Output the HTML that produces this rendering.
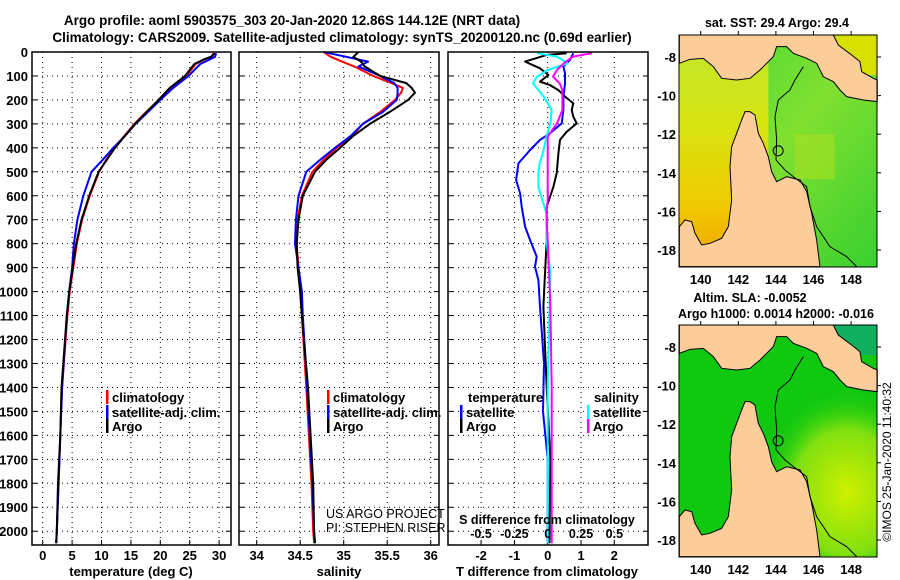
<!DOCTYPE html>
<html><head><meta charset="utf-8"><style>
body{margin:0;background:#fff;}
svg{display:block;font-family:"Liberation Sans",sans-serif;font-weight:bold;}
</style></head><body>
<svg id="c" width="900" height="580" viewBox="0 0 900 580" xmlns="http://www.w3.org/2000/svg">
<defs>
<linearGradient id="gulf" x1="0" y1="0" x2="0" y2="1"><stop offset="0" stop-color="#c0e830"/><stop offset="0.4" stop-color="#d8e410"/><stop offset="0.75" stop-color="#f0c800"/><stop offset="1" stop-color="#f0a000"/></linearGradient>
<linearGradient id="coral" x1="0" y1="0" x2="1" y2="1"><stop offset="0" stop-color="#40d838"/><stop offset="0.5" stop-color="#80e030"/><stop offset="1" stop-color="#38d030"/></linearGradient>
<radialGradient id="slaHi" cx="0.85" cy="0.72" r="0.45"><stop offset="0" stop-color="#d0f000"/><stop offset="0.6" stop-color="#80e010"/><stop offset="1" stop-color="#10c810" stop-opacity="0"/></radialGradient>
</defs>
<text x="292" y="25" text-anchor="middle" font-size="13.5">Argo profile: aoml 5903575_303 20-Jan-2020 12.86S 144.12E (NRT data)</text>
<text x="342" y="42" text-anchor="middle" font-size="13.5">Climatology: CARS2009. Satellite-adjusted climatology: synTS_20200120.nc (0.69d earlier)</text>
<g id="panels"></g>
<g id="maps"></g>
<text transform="translate(891,462) rotate(-90)" text-anchor="middle" font-size="12" font-weight="normal">©IMOS 25-Jan-2020 11:40:32</text>
</svg>
<script>
// ---- data ----
const depthTicks = [0,100,200,300,400,500,600,700,800,900,1000,1100,1200,1300,1400,1500,1600,1700,1800,1900,2000];
const tempTicks = [0,5,10,15,20,25,30];
const salTicks = [34,34.5,35,35.5,36];
const salTickLabels = ["34","34.5","35","35.5","36"];
const dTTicks = [-2,-1,0,1,2];
const dSTicks = [-0.5,-0.25,0,0.25,0.5];
const dSTickLabels = ["-0.5","-0.25","0","0.25","0.5"];

const depthT = [5,20,30,50,100,150,200,250,300,350,400,450,500,600,700,800,900,1000,1100,1400,1600,1800,2000,2050];
const tArgo = [29.3,28.6,27.5,25.8,24.2,21.6,19.7,17.7,15.7,14.0,12.3,10.9,9.5,7.9,6.6,5.7,5.1,4.5,4.1,3.2,3.0,2.6,2.4,2.3];
const tClim = [29.0,28.8,27.6,26.0,24.4,21.9,19.8,17.6,15.6,13.9,12.2,10.8,9.6,8.0,6.7,5.8,5.2,4.6,4.2,3.3,3.0,2.7,2.4,2.3];
const tSat = [29.5,29.3,28.5,26.8,24.8,22.2,20.0,17.9,15.8,14.0,12.0,10.2,8.3,6.9,5.9,5.3,5.0,4.5,4.1,3.3,3.0,2.7,2.4,2.3];

const depthS = [0,20,40,60,100,130,150,170,200,250,300,350,400,450,500,600,700,800,900,1000,1100,1400,1600,1800,2000,2050];
const sArgo = [35.17,35.11,35.20,35.24,35.42,35.72,35.78,35.82,35.74,35.53,35.30,35.11,34.96,34.80,34.67,34.53,34.48,34.46,34.47,34.50,34.52,34.59,34.62,34.65,34.66,34.67];
const sClim = [34.77,34.85,34.98,35.12,35.34,35.55,35.68,35.66,35.59,35.42,35.22,35.10,34.92,34.77,34.64,34.52,34.47,34.46,34.48,34.50,34.52,34.57,34.60,34.63,34.65,34.66];
const sSat = [34.77,35.03,35.28,35.17,35.42,35.58,35.62,35.62,35.61,35.45,35.22,35.08,34.90,34.73,34.57,34.48,34.45,34.44,34.48,34.52,34.53,34.58,34.61,34.64,34.66,34.67];

const dTArgoDepth = [5,12,40,68,96,124,138,159,186,214,242,270,298,333,367,423,506,562,646,785,924,1063,1400,1700,2050];
const dTArgo = [0.57,-0.03,-0.68,-0.23,0.02,-0.23,0.07,0.32,0.52,0.77,0.72,0.77,0.87,0.57,0.37,0.32,0.27,0.17,-0.03,-0.03,-0.08,-0.13,-0.03,0.08,0.05];
const dTSatDepth = [5,33,61,89,131,186,242,298,339,367,409,465,534,590,646,729,785,854,896,952,1063,1300,1500,1700,2050];
const dTSat = [0.77,0.67,0.47,0.52,0.52,0.47,0.47,0.42,0.07,-0.23,-0.53,-0.88,-0.95,-0.83,-0.78,-0.68,-0.53,-0.33,-0.38,-0.28,-0.23,-0.11,-0.14,0.0,0.0];
const dSSatDepth = [5,19,47,75,103,131,159,186,242,298,353,409,465,506,562,618,673,785,924,1400,2050];
const dSSat = [-0.08,0.07,0.15,0.0,-0.08,-0.11,-0.07,-0.03,0.03,0.02,-0.01,-0.03,-0.06,-0.07,-0.07,-0.04,-0.01,-0.01,0.02,0.0,0.0];
const dSArgoDepth = [5,19,47,75,103,131,159,186,242,298,353,409,506,618,673,785,1063,1400,2050];
const dSArgo = [0.33,0.19,0.12,0.07,0.04,0.09,0.11,0.11,0.11,0.07,0.0,0.0,0.0,0.0,-0.01,0.0,0.02,0.03,0.03];

const lonTicks = [140,142,144,146,148];
const latTicks = [-8,-10,-12,-14,-16,-18];
const argoLon = [144.12];
const argoLat = [-12.86];

// ---- helpers ----
const NS = "http://www.w3.org/2000/svg";
function mk(parent, tag, attrs, txt){const e=document.createElementNS(NS,tag);for(const k in attrs)e.setAttribute(k,attrs[k]);if(txt!==undefined)e.textContent=txt;parent.appendChild(e);return e;}
const TOP=52, BOT=545;
const yD = d => TOP + d*0.2396;
const xT = t => 42.7 + t*5.88;
const xS = s => 256.7 + (s-34)*87;
const xDT = v => 547.7 + v*33.3;
const xDS = v => 547.7 + v*133.3;

const panels = document.getElementById('panels');

function frame(x0,x1,name){
  const g=mk(panels,'g',{});
  
  
  depthTicks.forEach(d=>{ if(d>0){ const l=mk(g,'line',{x1:x0,x2:x1,y1:yD(d),y2:yD(d),stroke:'#000','stroke-width':1,'stroke-dasharray':'1 4'});
    
    
    mk(g,'line',{x1:x0,x2:x0+5,y1:yD(d),y2:yD(d),stroke:'#000'});
    mk(g,'line',{x1:x1-5,x2:x1,y1:yD(d),y2:yD(d),stroke:'#000'}); }});
  return g;
}
function vgrid(g,xs){xs.forEach(x=>{const l=mk(g,'line',{x1:x,x2:x,y1:TOP,y2:BOT,stroke:'#000','stroke-width':1,'stroke-dasharray':'1 4'});
  
  
  mk(g,'line',{x1:x,x2:x,y1:BOT-5,y2:BOT,stroke:'#000'});});}
function border(g,x0,x1){const r=mk(g,'rect',{x:x0,y:TOP,width:x1-x0,height:BOT-TOP,fill:'none',stroke:'#000','stroke-width':1.5});
  
  }
function series(g,depths,vals,xf,color,name){
  const pts=depths.map((d,i)=>xf(vals[i]).toFixed(1)+','+yD(d).toFixed(1)).join(' ');
  const p=mk(g,'polyline',{points:pts,fill:'none',stroke:color,'stroke-width':2,'stroke-linejoin':'round'});
  
  
}
function legendRow(g,x,y,color,label,name){
  mk(g,'rect',{x:x,y:y-7,width:2.5,height:14,fill:color});
  const t=mk(g,'text',{x:x+6,y:y+5,'font-size':13},label);
  
  
}

// Panel 1 temperature
const g1=frame(32,231,'temperature-panel');
vgrid(g1,tempTicks.map(xT));
series(g1,depthT,tClim,xT,'#ff0000','temperature-climatology-line');
series(g1,depthT,tSat,xT,'#0000ff','temperature-satellite-line');
series(g1,depthT,tArgo,xT,'#000000','temperature-argo-line');
border(g1,32,231);
depthTicks.forEach(d=>{const t=mk(g1,'text',{x:28,y:yD(d)+5,'text-anchor':'end','font-size':13},String(d));
  
  });
tempTicks.forEach(v=>{const t=mk(g1,'text',{x:xT(v),y:560,'text-anchor':'middle','font-size':13},String(v));
  
  });
{const t=mk(g1,'text',{x:131,y:576,'text-anchor':'middle','font-size':13},'temperature (deg C)');
 
 }
legendRow(g1,106,397,'#ff0000','climatology','legend-climatology');
legendRow(g1,106,412,'#0000ff','satellite-adj. clim.','legend-satellite-adj');
legendRow(g1,106,426,'#000000','Argo','legend-argo');

// Panel 2 salinity
const g2=frame(239,439,'salinity-panel');
vgrid(g2,salTicks.map(xS));
series(g2,depthS,sClim,xS,'#ff0000','salinity-climatology-line');
series(g2,depthS,sSat,xS,'#0000ff','salinity-satellite-line');
series(g2,depthS,sArgo,xS,'#000000','salinity-argo-line');
border(g2,239,439);
salTicks.forEach((v,i)=>{const t=mk(g2,'text',{x:xS(v),y:560,'text-anchor':'middle','font-size':13},salTickLabels[i]);
  
  });
{const t=mk(g2,'text',{x:339,y:576,'text-anchor':'middle','font-size':13},'salinity');
 
 }
legendRow(g2,327,397,'#ff0000','climatology','legend-climatology-2');
legendRow(g2,327,412,'#0000ff','satellite-adj. clim.','legend-satellite-adj-2');
legendRow(g2,327,426,'#000000','Argo','legend-argo-2');
{const t=mk(g2,'text',{x:326,y:518,'font-size':12.5,'font-weight':'normal'},'US ARGO PROJECT');
 
 
 const t2=mk(g2,'text',{x:326,y:532,'font-size':12.5,'font-weight':'normal'},'PI: STEPHEN RISER');
 
 }

// Panel 3 differences
const g3=frame(448,648,'difference-panel');
vgrid(g3,dTTicks.map(xDT));
series(g3,dTSatDepth,dTSat,xDT,'#0000ff','temperature-satellite-difference-line');
series(g3,dTArgoDepth,dTArgo,xDT,'#000000','temperature-argo-difference-line');
series(g3,dSSatDepth,dSSat,xDS,'#00ffff','salinity-satellite-difference-line');
series(g3,dSArgoDepth,dSArgo,xDS,'#ff00ff','salinity-argo-difference-line');
border(g3,448,648);
dTTicks.forEach(v=>{const t=mk(g3,'text',{x:xDT(v),y:560,'text-anchor':'middle','font-size':13},String(v));
  
  });
dSTicks.forEach((v,i)=>{const t=mk(g3,'text',{x:xDS(v),y:538,'text-anchor':'middle','font-size':12.5},dSTickLabels[i]);
  
  });
{const t=mk(g3,'text',{x:547,y:576,'text-anchor':'middle','font-size':13},'T difference from climatology');
 
 
 const t2=mk(g3,'text',{x:547,y:524,'text-anchor':'middle','font-size':12.5},'S difference from climatology');
 
 
 const t3=mk(g3,'text',{x:468,y:402,'font-size':13},'temperature');
 
 
 const t4=mk(g3,'text',{x:594,y:402,'font-size':13},'salinity');
 
 }
legendRow(g3,460,412,'#0000ff','satellite','legend-t-satellite');
legendRow(g3,460,426,'#000000','Argo','legend-t-argo');
legendRow(g3,587,412,'#00ffff','satellite','legend-s-satellite');
legendRow(g3,587,426,'#ff00ff','Argo','legend-s-argo');

// ---- maps ----
const maps=document.getElementById('maps');
const MX0=679, MX1=877;
const xLon = lon => 700.7 + (lon-140)*18.8;
const yLat = (lat,off) => 57 + off + (-8-lat)*19.3;
const pngLand="58,105 520,105 535,135 575,165 600,185 605,215 640,235 652,240 652,305 610,300 560,290 540,270 520,245 490,230 470,190 440,175 400,160 380,140 350,140 340,170 320,190 300,210 270,235 230,240 185,235 160,200 130,175 90,178 58,190";
const capeYork="255,335 245,360 230,400 215,440 210,500 215,600 205,680 185,715 150,730 125,735 105,700 95,665 75,660 58,680 58,800 480,800 470,720 455,640 440,575 420,540 380,530 350,545 335,515 325,470 310,430 295,400 285,345 270,335";
const shelf="430,200 405,240 390,270 355,300 345,350 350,420 348,480 375,510 400,530 440,560 450,620 470,680 510,740 560,770 590,800";
function drawMap(off,name,water){
  const g=mk(maps,'g',{});
  
  
  const y0=35+off, y1=267+off;
  water(g,y0,y1);
  const s=mk(g,'g',{transform:`translate(660,${off}) scale(0.3333)`});
  const p1=mk(s,'polygon',{points:pngLand,fill:'#fccc99',stroke:'#000','stroke-width':3});
  
  
  const p2=mk(s,'polygon',{points:capeYork,fill:'#fccc99',stroke:'#000','stroke-width':3});
  
  
  mk(s,'polyline',{points:shelf,fill:'none',stroke:'#000','stroke-width':3});
  const c=mk(g,'circle',{cx:xLon(argoLon[0]),cy:yLat(argoLat[0],off),r:5,fill:'none',stroke:'#000','stroke-width':1});
  
  
  const r=mk(g,'rect',{x:MX0,y:y0,width:MX1-MX0,height:y1-y0,fill:'none',stroke:'#000','stroke-width':1});
  
  
  lonTicks.forEach(v=>{mk(g,'line',{x1:xLon(v),x2:xLon(v),y1:y0-4,y2:y0,stroke:'#000'});
    const t=mk(g,'text',{x:xLon(v),y:y1+17,'text-anchor':'middle','font-size':13},String(v));
    
    });
  latTicks.forEach(v=>{mk(g,'line',{x1:MX1,x2:MX1+4,y1:yLat(v,off),y2:yLat(v,off),stroke:'#000'});
    const t=mk(g,'text',{x:676,y:yLat(v,off)+5,'text-anchor':'end','font-size':13},String(v));
    
    });
}
drawMap(0,'sst-map',(g,y0,y1)=>{
  mk(g,'rect',{x:MX0,y:y0,width:MX1-MX0,height:y1-y0,fill:'url(#coral)'});
  mk(g,'rect',{x:MX0,y:y0,width:xLon(143.6)-MX0,height:y1-y0,fill:'url(#gulf)'});
  mk(g,'rect',{x:xLon(145),y:yLat(-12,0),width:40,height:45,fill:'#a8e020',opacity:0.6});
  mk(g,'rect',{x:xLon(146.5),y:y0,width:MX1-xLon(146.5),height:40,fill:'#d8e000'});
});
drawMap(290,'sla-map',(g,y0,y1)=>{
  mk(g,'rect',{x:MX0,y:y0,width:MX1-MX0,height:y1-y0,fill:'#10c810'});
  mk(g,'rect',{x:MX0,y:y0,width:MX1-MX0,height:y1-y0,fill:'url(#slaHi)'});
  mk(g,'rect',{x:xLon(146.5),y:y0,width:MX1-xLon(146.5),height:30,fill:'#10b060'});
});
[['sat. SST: 29.4 Argo: 29.4',777,27,'sst-map-title'],['Altim. SLA: -0.0052',750,302,'sla-map-title'],['Argo h1000: 0.0014 h2000: -0.016',776,318,'sla-map-subtitle']].forEach(a=>{
  const t=mk(maps,'text',{x:a[1],y:a[2],'text-anchor':'middle','font-size':12.5},a[0]);
  
  
});
</script>
</body></html>
